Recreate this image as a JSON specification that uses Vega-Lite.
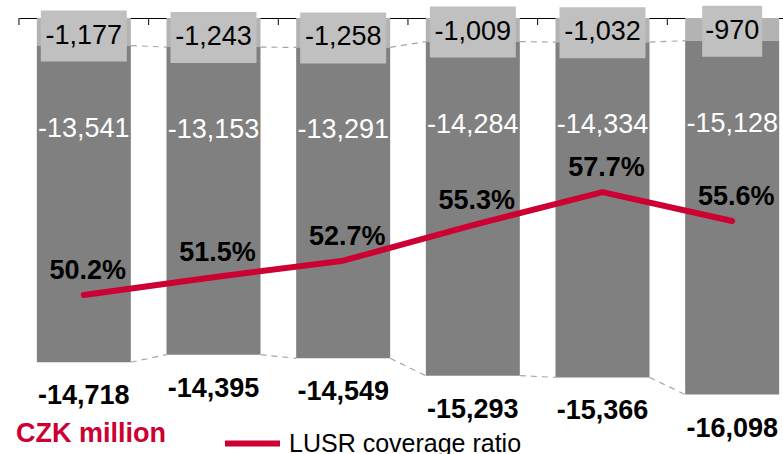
{
  "$schema": "https://vega.github.io/schema/vega-lite/v6.json",
  "width": 764,
  "height": 421,
  "autosize": {"type": "none"},
  "padding": {"left": 19, "top": 18, "right": 0, "bottom": 15},
  "background": "white",
  "title": {"text": "CZK million", "orient": "bottom", "anchor": "start", "frame": "group", "baseline": "alphabetic", "offset": -15, "dx": -3, "fontSize": 27, "font": "Liberation Sans", "fontWeight": "bold", "color": "#cc0033"},
  "config": {
    "view": {"stroke": null},
    "font": "Liberation Sans",
    "locale": {"number": {"decimal": ".", "thousands": ",", "grouping": [3], "currency": ["$", ""], "minus": "-"}}
  },
  "data": {"values": [
    {"cat": "A", "light": -1177, "dark": -13541, "total": -14718, "ratio": 0.502},
    {"cat": "B", "light": -1243, "dark": -13153, "total": -14395, "ratio": 0.515},
    {"cat": "C", "light": -1258, "dark": -13291, "total": -14549, "ratio": 0.527},
    {"cat": "D", "light": -1009, "dark": -14284, "total": -15293, "ratio": 0.553},
    {"cat": "E", "light": -1032, "dark": -14334, "total": -15366, "ratio": 0.577},
    {"cat": "F", "light": -970, "dark": -15128, "total": -16098, "ratio": 0.556}
  ]},
  "encoding": {
    "x": {
      "field": "cat", "type": "nominal",
      "scale": {"range": [0, 778], "paddingInner": 0.275, "paddingOuter": 0.1375},
      "axis": {"orient": "bottom", "offset": -421, "labels": false, "title": null, "domainColor": "black", "domainWidth": 1, "ticks": false}
    }
  },
  "layer": [
    {
      "layer": [
        {
          "mark": {"type": "rule", "color": "black", "strokeWidth": 1},
          "encoding": {
            "x": {"field": "cat", "type": "nominal", "bandPosition": -0.19},
            "y": {"datum": 0, "type": "quantitative", "scale": {"domain": [-18000, 0]}, "axis": null},
            "y2": {"datum": -300}
          }
        },
        {
          "mark": {"type": "bar", "color": "#b3b3b3"},
          "encoding": {
            "y": {"field": "light", "type": "quantitative", "scale": {"domain": [-18000, 0]}, "axis": null},
            "y2": {"datum": 0}
          }
        },
        {
          "mark": {"type": "bar", "color": "#808080"},
          "encoding": {
            "y": {"field": "light", "type": "quantitative", "scale": {"domain": [-18000, 0]}, "axis": null},
            "y2": {"field": "total"}
          }
        },
        {
          "transform": [{"window": [{"op": "lead", "field": "cat", "as": "nextCat"}, {"op": "lead", "field": "light", "as": "nextLight"}, {"op": "lead", "field": "total", "as": "nextTotal"}]}, {"filter": "datum.nextCat != null"}],
          "layer": [
            {
              "mark": {"type": "rule", "color": "#a6a6a6", "strokeDash": [6, 5], "strokeWidth": 1.2},
              "encoding": {
                "x": {"field": "cat", "type": "nominal", "bandPosition": 1},
                "x2": {"field": "nextCat", "bandPosition": 0},
                "y": {"field": "light", "type": "quantitative", "scale": {"domain": [-18000, 0]}, "axis": null},
                "y2": {"field": "nextLight"}
              }
            },
            {
              "mark": {"type": "rule", "color": "#a6a6a6", "strokeDash": [6, 5], "strokeWidth": 1.2},
              "encoding": {
                "x": {"field": "cat", "type": "nominal", "bandPosition": 1},
                "x2": {"field": "nextCat", "bandPosition": 0},
                "y": {"field": "total", "type": "quantitative", "scale": {"domain": [-18000, 0]}, "axis": null},
                "y2": {"field": "nextTotal"}
              }
            }
          ]
        },
        {
          "mark": {"type": "bar", "color": "#c0c0c0", "yOffset": -35, "y2Offset": 16},
          "encoding": {
            "y": {"field": "light", "type": "quantitative", "scale": {"domain": [-18000, 0]}, "axis": null},
            "y2": {"field": "light"},
            "size": {"condition": {"test": "datum.light > -1000", "value": 60}, "value": 86}
          }
        },
        {
          "mark": {"type": "text", "fontSize": 27, "color": "black", "baseline": "alphabetic", "dy": -2},
          "encoding": {
            "y": {"field": "light", "type": "quantitative", "scale": {"domain": [-18000, 0]}, "axis": null},
            "text": {"field": "light", "type": "quantitative", "format": ","}
          }
        },
        {
          "mark": {"type": "text", "fontSize": 27, "color": "white", "baseline": "alphabetic", "dy": 91},
          "encoding": {
            "y": {"field": "light", "type": "quantitative", "scale": {"domain": [-18000, 0]}, "axis": null},
            "text": {"field": "dark", "type": "quantitative", "format": ","}
          }
        },
        {
          "mark": {"type": "text", "fontSize": 27, "fontWeight": "bold", "color": "black", "baseline": "alphabetic", "dy": 42},
          "encoding": {
            "y": {"field": "total", "type": "quantitative", "scale": {"domain": [-18000, 0]}, "axis": null},
            "text": {"field": "total", "type": "quantitative", "format": ","}
          }
        }
      ]
    },
    {
      "layer": [
        {
          "mark": {"type": "line", "strokeWidth": 6, "strokeCap": "round", "strokeJoin": "round"},
          "encoding": {
            "y": {"field": "ratio", "type": "quantitative", "scale": {"domain": [0.397, 0.704]}, "axis": null},
            "color": {
              "datum": "LUSR coverage ratio", "type": "nominal",
              "scale": {"range": ["#cc0033"]},
              "legend": {
                "title": null, "orient": "none", "legendX": 203, "legendY": 395,
                "direction": "horizontal",
                "symbolType": "stroke", "symbolStrokeWidth": 6, "symbolSize": 3025,
                "labelFontSize": 25, "labelColor": "black", "labelFont": "Liberation Sans", "labelOffset": 6,
                "padding": 0, "labelLimit": 0
              }
            }
          }
        },
        {
          "mark": {"type": "text", "fontSize": 27, "fontWeight": "bold", "color": "black", "baseline": "alphabetic", "dy": -16, "dx": 4},
          "encoding": {
            "y": {"field": "ratio", "type": "quantitative", "scale": {"domain": [0.397, 0.704]}, "axis": null},
            "text": {"field": "ratio", "type": "quantitative", "format": ".1%"}
          }
        }
      ]
    }
  ],
  "resolve": {"scale": {"y": "independent"}}
}
